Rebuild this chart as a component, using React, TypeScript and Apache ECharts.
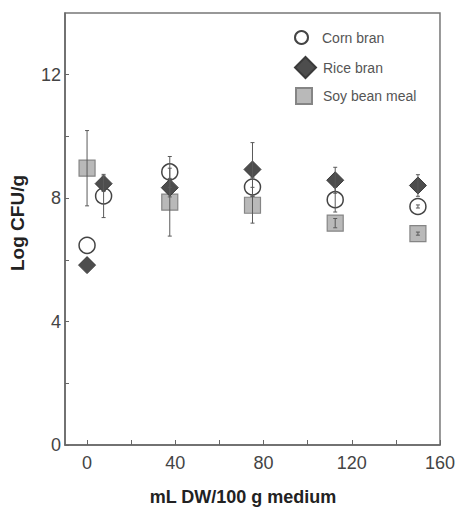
import React, { useEffect, useRef } from "react";
import * as echarts from "echarts";

const cornX = [0, 7.5, 37.5, 75, 112.5, 150];
const cornY = [6.47, 8.07, 8.85, 8.36, 7.95, 7.73];
const cornErr = [0, 0.7, 0.5, 0.3, 0.4, 0.05];

const riceX = [0, 7.5, 37.5, 75, 112.5, 150];
const riceY = [5.83, 8.47, 8.34, 8.93, 8.58, 8.41];
const riceErr = [0, 0.25, 0.3, 0.87, 0.42, 0.35];

const soyX = [0, 37.5, 75, 112.5, 150];
const soyY = [8.97, 7.87, 7.77, 7.19, 6.85];
const soyErr = [1.22, 1.1, 0.58, 0.15, 0.05];

const xTicks = [0, 20, 40, 60, 80, 100, 120, 140, 160];
const xLabels = [0, 40, 80, 120, 160];
const yTicks = [0, 2, 4, 6, 8, 10, 12];
const yLabels = [0, 4, 8, 12];

const FONT = "'Liberation Sans', Arial, sans-serif";

function pts(xs: number[], ys: number[], es?: number[]) {
  return xs.map((x, i) => (es ? [x, ys[i], es[i]] : [x, ys[i]]));
}

function errSeries(xs: number[], ys: number[], es: number[]) {
  return {
    type: "custom",
    z: 5,
    silent: true,
    data: pts(xs, ys, es),
    renderItem: (params: any, api: any) => {
      const x = api.value(0);
      const y = api.value(1);
      const e = api.value(2);
      if (!e) return { type: "group", children: [] };
      const top = api.coord([x, y + e]);
      const bot = api.coord([x, y - e]);
      const style = { stroke: "#5a5a5a", lineWidth: 1 };
      const cw = 2;
      return {
        type: "group",
        children: [
          { type: "line", shape: { x1: top[0], y1: top[1], x2: bot[0], y2: bot[1] }, style },
          { type: "line", shape: { x1: top[0] - cw, y1: top[1], x2: top[0] + cw, y2: top[1] }, style },
          { type: "line", shape: { x1: bot[0] - cw, y1: bot[1], x2: bot[0] + cw, y2: bot[1] }, style },
        ],
      };
    },
  };
}

const legendText = { fontSize: 14, color: "#555", fontFamily: FONT };

export default function App() {
  const ref = useRef<HTMLDivElement>(null);
  useEffect(() => {
    if (!ref.current) return;
    const chart = echarts.init(ref.current, undefined, { renderer: "svg" });
    chart.setOption({
      animation: false,
      backgroundColor: "#ffffff",
      grid: {
        left: 63,
        right: 17,
        top: 13,
        bottom: 66,
        show: true,
        borderColor: "#777",
        borderWidth: 1.5,
      },
      legend: [
        {
          data: ["Corn bran"],
          left: 289,
          top: 25,
          itemWidth: 13,
          itemHeight: 13,
          textStyle: { ...legendText, padding: [0, 0, 0, 9] },
          selectedMode: false,
        },
        {
          data: ["Rice bran"],
          left: 289,
          top: 51,
          itemWidth: 21,
          itemHeight: 21,
          textStyle: { ...legendText, padding: [0, 0, 0, 2] },
          selectedMode: false,
        },
        {
          data: ["Soy bean meal"],
          left: 290,
          top: 82,
          itemWidth: 16,
          itemHeight: 16,
          textStyle: { ...legendText, padding: [0, 0, 0, 6] },
          selectedMode: false,
        },
      ],
      xAxis: {
        type: "value",
        min: -10,
        max: 160,
        name: "mL DW/100 g medium",
        nameLocation: "middle",
        nameGap: 43,
        nameTextStyle: {
          fontSize: 18,
          fontWeight: "bold",
          color: "#222",
          fontFamily: FONT,
          padding: [0, 19, 0, 0],
        },
        axisLine: { show: true, onZero: false, lineStyle: { color: "#666", width: 1.5 } },
        axisTick: { show: true, inside: true, length: 5, customValues: xTicks, lineStyle: { color: "#666" } },
        axisLabel: { customValues: xLabels, fontSize: 18, color: "#444", fontFamily: FONT, margin: 9 },
        splitLine: { show: false },
      },
      yAxis: {
        type: "value",
        min: 0,
        max: 14,
        name: "Log CFU/g",
        nameLocation: "middle",
        nameGap: 38,
        nameRotate: 90,
        nameTextStyle: {
          fontSize: 19,
          fontWeight: "bold",
          color: "#222",
          fontFamily: FONT,
          padding: [0, 0, 0, 12],
        },
        axisLine: { show: true, onZero: false, lineStyle: { color: "#666", width: 1.5 } },
        axisTick: { show: true, inside: true, length: 4, customValues: yTicks, lineStyle: { color: "#666" } },
        axisLabel: { customValues: yLabels, fontSize: 18, color: "#444", fontFamily: FONT, margin: 4 },
        splitLine: { show: false },
      },
      series: [
        {
          name: "Soy bean meal",
          type: "scatter",
          symbol: "rect",
          symbolSize: 16,
          z: 2,
          itemStyle: { color: "#b9b9b9", borderColor: "#858585", borderWidth: 1.2, opacity: 1 },
          data: pts(soyX, soyY),
        },
        {
          name: "Corn bran",
          type: "scatter",
          symbol: "circle",
          symbolSize: 16,
          z: 3,
          itemStyle: { color: "#ffffff", borderColor: "#444", borderWidth: 1.5, opacity: 1 },
          data: pts(cornX, cornY),
        },
        {
          name: "Rice bran",
          type: "scatter",
          symbol: "diamond",
          symbolSize: 17,
          z: 4,
          itemStyle: { color: "#4d4d4d", borderColor: "#3a3a3a", borderWidth: 1, opacity: 1 },
          data: pts(riceX, riceY),
        },
        errSeries(soyX, soyY, soyErr),
        errSeries(cornX, cornY, cornErr),
        errSeries(riceX, riceY, riceErr),
      ],
    });
    return () => chart.dispose();
  }, []);
  return (
    <div
      ref={ref}
      style={{ position: "absolute", left: 0, top: 0, width: 458, height: 511 }}
    />
  );
}
